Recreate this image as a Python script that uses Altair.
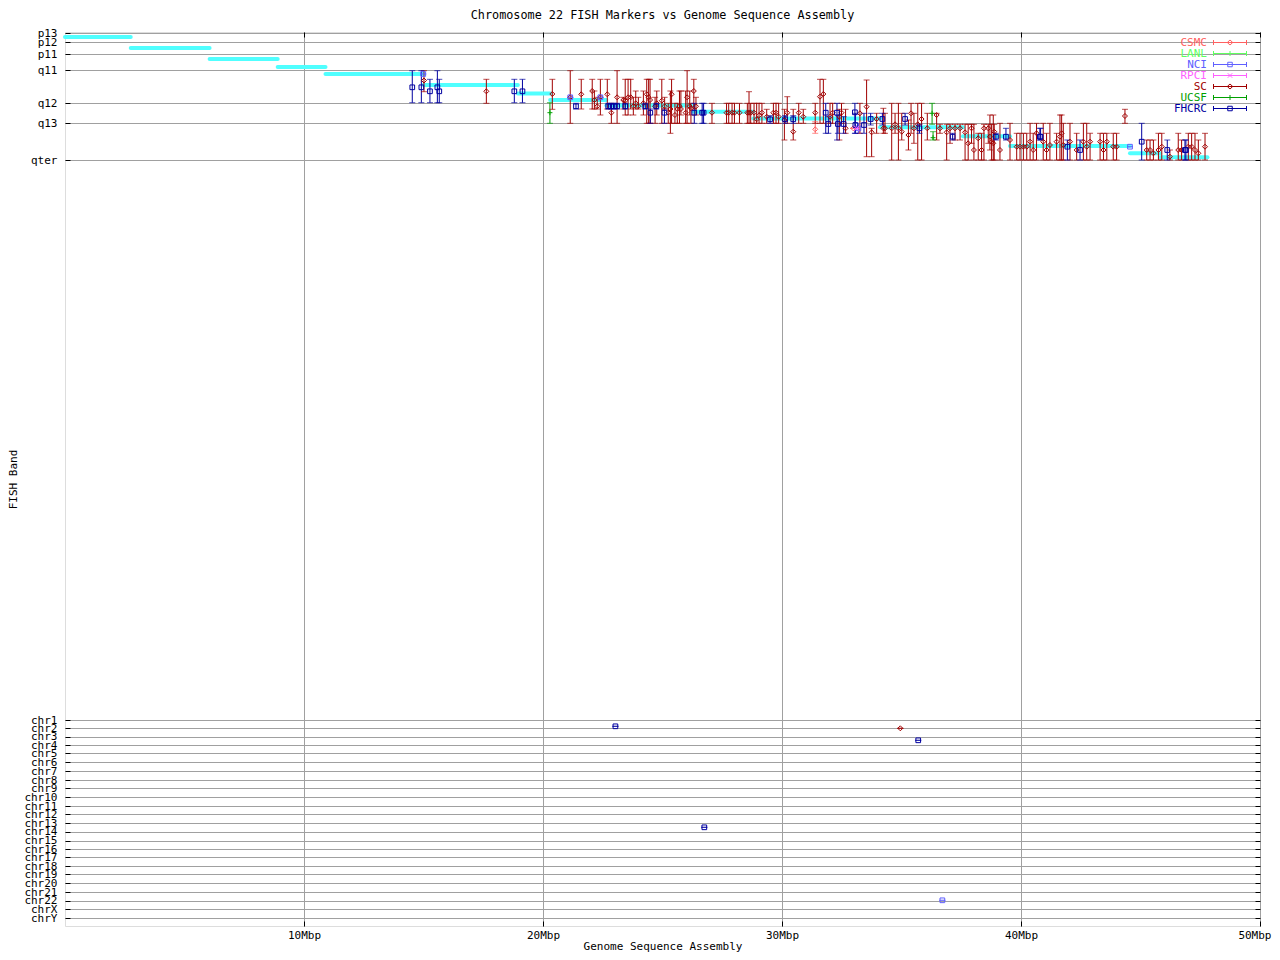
import json
import altair as alt
import pandas as pd

TITLE = "Chromosome 22 FISH Markers vs Genome Sequence Assembly"
X_TITLE = "Genome Sequence Assembly"
Y_TITLE = "FISH Band"
FONT = "DejaVu Sans Mono"

series_names = ["CSMC", "LANL", "NCI", "RPCI", "SC", "UCSF", "FHCRC"]
series_colors = ["#ff6060", "#60ff60", "#6060ff", "#ff60ff", "#a00000", "#00a000", "#0000a0"]

x_tick_values = [10, 20, 30, 40, 50]
band_labels = ["p13", "p12", "p11", "q11", "q12", "q13", "qter"]
band_pos = [1, 10, 22, 38, 71, 91, 128]
chrom_labels = ["chr1", "chr2", "chr3", "chr4", "chr5", "chr6", "chr7", "chr8", "chr9",
                "chr10", "chr11", "chr12", "chr13", "chr14", "chr15", "chr16", "chr17",
                "chr18", "chr19", "chr20", "chr21", "chr22", "chrX", "chrY"]
chrom_pos = [688, 696.3, 704.7, 713, 721.3, 730.3, 739, 748, 756.3, 765.3, 774, 782.3,
             791.3, 799.7, 808.7, 817, 825.3, 834, 842.3, 851.3, 860, 868.7, 877.3, 886]

# assembly band segments (cyan staircase)
asm_start = [0.0, 2.75, 6.05, 8.9, 10.9, 15.0, 18.95, 20.3, 22.65, 26.3, 28.8, 34.1, 37.57, 39.54, 44.56, 45.82]
asm_end = [2.75, 6.05, 8.9, 10.9, 15.0, 18.95, 20.3, 22.65, 26.3, 28.8, 34.1, 37.57, 39.54, 44.56, 45.82, 47.8]
asm_band = [5, 16, 27, 35, 42, 53, 61.5, 68, 73.5, 79.7, 86.5, 95.3, 104.3, 114, 121.3, 125.3]

# FHCRC markers: position (Mbp), band position, band range low/high
fhcrc_x = [14.53, 14.91, 15.27, 15.58, 15.66, 18.80, 19.14, 21.38, 22.73, 22.85, 22.97, 23.10,
           23.44, 24.28, 24.49, 24.74, 25.08, 26.33, 26.66, 26.72, 29.50, 30.13, 30.47, 31.83,
           31.94, 32.30, 32.34, 32.58, 33.05, 33.07, 33.43, 33.71, 34.20, 35.15, 35.75, 37.14,
           38.95, 39.37, 40.79, 40.82, 41.94, 42.47, 45.05, 46.12, 46.86, 46.90,
           23.03, 35.70, 26.75]
fhcrc_y = [55.3, 55.3, 59.3, 55.3, 59.3, 59.3, 59.3, 74.3, 74.3, 74.3, 74.3, 74.3,
           74.3, 74.3, 80.7, 74.3, 80.7, 80.7, 80.7, 80.7, 87.3, 87.3, 87.3, 80.7,
           92.0, 80.7, 92.0, 92.0, 80.3, 93.0, 93.0, 87.0, 87.0, 87.0, 96.3, 104.7,
           104.7, 104.7, 104.7, 104.7, 114.7, 118.0, 109.7, 118.0, 118.0, 118.0,
           694.3, 708.3, 795.3]
fhcrc_lo = [38.7, 38.7, 47.3, 38.7, 47.3, 47.3, 47.3, 71.3, 71.3, 71.3, 71.3, 71.3,
            71.3, 71.3, 77.0, 71.3, 77.0, 71.3, 71.3, 71.3, 83.7, 83.7, 83.7, 71.3,
            84.7, 71.3, 83.7, 84.7, 71.3, 81.3, 81.3, 81.3, 81.3, 81.3, 92.3, 101.3,
            101.3, 96.3, 96.3, 96.3, 108.0, 108.0, 91.3, 108.0, 108.0, 108.0,
            694.3, 708.3, 795.3]
fhcrc_hi = [70.7, 70.7, 70.7, 70.7, 70.7, 70.7, 70.7, 77.0, 77.0, 77.0, 77.0, 77.0,
            77.0, 77.0, 91.3, 77.0, 91.3, 91.3, 91.3, 91.3, 91.3, 91.3, 91.3, 101.3,
            101.3, 108.0, 101.3, 101.3, 101.3, 101.3, 101.3, 93.0, 93.0, 93.0, 101.3, 108.0,
            108.0, 108.0, 108.0, 108.0, 128.0, 128.0, 128.0, 128.0, 128.0, 128.0,
            694.3, 708.3, 795.3]

sc_x = [15.02, 17.63, 20.39, 21.14, 21.60, 22.06, 22.15, 22.27, 22.40, 22.69, 22.86, 23.10,
        23.36, 23.44, 23.56, 23.67, 23.78, 23.88, 23.99, 24.20, 24.34, 24.42, 24.48, 24.69,
        24.76, 24.97, 25.09, 25.24, 25.33, 25.38, 25.52, 25.62, 25.71, 25.77, 25.97, 26.03,
        26.14, 26.31, 26.40, 26.19, 27.07, 27.68, 27.77, 27.91, 28.01, 28.22, 28.55, 28.62,
        28.69, 28.83, 28.94, 29.04, 29.16, 29.36, 29.64, 29.75, 29.86, 30.10, 30.22, 30.47,
        30.70, 30.89, 31.39, 31.59, 31.73, 32.01, 32.12, 32.40, 32.49, 32.66, 33.26, 33.54,
        33.75, 33.96, 34.24, 34.31, 34.59, 34.73, 34.87, 35.01, 35.29, 35.40, 35.52, 35.68,
        35.84, 36.08, 36.47, 36.61, 36.89, 37.03, 37.24, 37.45, 37.66, 37.79, 37.93, 38.03,
        38.21, 38.35, 38.45, 38.63, 38.70, 38.77, 38.84, 38.88, 39.12, 39.54, 39.82, 39.96,
        40.10, 40.24, 40.38, 40.51, 40.65, 40.93, 41.07, 41.21, 41.49, 41.63, 41.70, 41.77,
        42.05, 42.33, 42.61, 42.75, 42.89, 43.31, 43.45, 43.59, 43.86, 44.00, 44.35, 45.26,
        45.40, 45.54, 45.75, 45.89, 46.23, 46.58, 46.72, 47.00, 47.14, 47.28, 47.42, 47.70,
        34.95]
sc_y = [48.5, 59.3, 62.0, 65.3, 62.3, 59.0, 68.0, 74.3, 65.3, 62.3, 80.7, 65.3,
        68.0, 68.7, 65.3, 65.3, 74.3, 71.3, 74.3, 71.3, 62.3, 65.3, 68.0, 74.3,
        71.3, 68.7, 74.3, 80.7, 77.0, 62.3, 83.0, 77.0, 74.3, 77.0, 80.7, 65.3,
        74.3, 59.0, 74.3, 76.3, 80.7, 80.7, 80.7, 80.7, 80.7, 80.7, 80.7, 80.7,
        80.7, 80.7, 87.3, 83.3, 80.7, 84.7, 80.7, 80.7, 84.7, 88.0, 80.7, 99.7,
        80.7, 84.7, 80.7, 64.7, 62.0, 84.7, 80.7, 84.7, 80.7, 96.3, 81.3, 74.7,
        100.3, 87.0, 96.3, 96.3, 96.3, 92.3, 96.3, 99.7, 103.0, 81.3, 96.3, 92.3,
        87.0, 96.3, 83.0, 96.3, 100.3, 96.3, 96.3, 96.3, 100.3, 111.3, 96.3, 118.0,
        106.3, 118.0, 96.3, 96.3, 104.7, 109.7, 111.3, 99.7, 118.0, 108.0, 114.7, 114.7,
        114.7, 114.7, 109.7, 118.0, 101.3, 109.7, 118.0, 113.0, 109.7, 104.7, 101.3, 113.0,
        109.7, 118.0, 109.7, 114.7, 109.7, 109.7, 118.0, 109.7, 114.7, 114.7, 84.0, 118.0,
        118.0, 121.3, 118.0, 114.7, 124.7, 118.0, 118.0, 114.7, 114.7, 118.0, 121.3, 114.7,
        696.3]
sc_lo = [38.7, 47.3, 47.3, 38.7, 47.3, 47.3, 59.0, 65.3, 47.3, 47.3, 71.3, 38.7,
         65.3, 47.3, 47.3, 47.3, 65.3, 59.0, 65.3, 59.0, 47.3, 47.3, 47.3, 65.3,
         59.0, 47.3, 65.3, 71.3, 59.0, 47.3, 71.3, 71.3, 59.0, 59.0, 59.0, 38.7,
         59.0, 47.3, 65.3, 71.3, 71.3, 71.3, 71.3, 71.3, 71.3, 71.3, 71.3, 59.7,
         71.3, 71.3, 71.3, 71.3, 71.3, 77.3, 71.3, 71.3, 71.3, 77.3, 64.7, 77.3,
         71.3, 77.3, 71.3, 47.3, 47.3, 71.3, 71.3, 77.3, 71.3, 77.3, 71.3, 48.0,
         96.3, 81.3, 76.3, 81.3, 71.3, 81.3, 71.3, 81.3, 88.0, 71.3, 81.3, 71.3,
         71.3, 81.3, 81.3, 92.3, 92.3, 92.3, 92.3, 92.3, 92.3, 92.3, 92.3, 92.3,
         101.3, 101.3, 92.3, 92.3, 83.0, 92.3, 83.0, 92.3, 91.3, 91.3, 101.3, 101.3,
         101.3, 101.3, 91.3, 101.3, 91.3, 91.3, 101.3, 91.3, 101.3, 83.0, 83.0, 91.3,
         91.3, 101.3, 91.3, 91.3, 101.3, 101.3, 101.3, 101.3, 101.3, 101.3, 77.3, 108.0,
         108.0, 108.0, 101.3, 101.3, 118.0, 101.3, 108.0, 101.3, 101.3, 101.3, 108.0, 101.3,
         696.3]
sc_hi = [59.7, 71.3, 77.3, 91.3, 77.0, 77.0, 77.0, 77.0, 83.0, 77.0, 91.3, 91.3,
         77.0, 83.0, 83.0, 77.0, 83.0, 77.0, 77.0, 83.0, 91.3, 91.3, 91.3, 91.3,
         83.0, 91.3, 77.0, 91.3, 101.3, 91.3, 91.3, 91.3, 91.3, 83.0, 91.3, 91.3,
         83.0, 77.0, 83.0, 91.3, 91.3, 91.3, 91.3, 91.3, 91.3, 91.3, 91.3, 91.3,
         91.3, 91.3, 91.3, 91.3, 91.3, 91.3, 91.3, 91.3, 91.3, 108.0, 91.3, 108.0,
         91.3, 91.3, 91.3, 91.3, 91.3, 91.3, 91.3, 108.0, 91.3, 101.3, 101.3, 124.7,
         124.7, 101.3, 101.3, 101.3, 128.0, 101.3, 128.0, 108.0, 118.0, 101.3, 111.3, 128.0,
         128.0, 108.0, 108.0, 101.3, 128.0, 111.3, 108.0, 108.0, 128.0, 128.0, 111.3, 128.0,
         128.0, 128.0, 128.0, 111.3, 118.0, 128.0, 128.0, 128.0, 128.0, 128.0, 128.0, 128.0,
         128.0, 128.0, 128.0, 128.0, 128.0, 128.0, 128.0, 128.0, 128.0, 128.0, 128.0, 128.0,
         128.0, 128.0, 128.0, 128.0, 128.0, 128.0, 128.0, 128.0, 128.0, 128.0, 91.3, 128.0,
         128.0, 128.0, 128.0, 128.0, 128.0, 128.0, 128.0, 128.0, 128.0, 128.0, 128.0, 128.0,
         696.3]

csmc_x = [31.39, 32.98]
csmc_y = [97.3, 96.3]
csmc_lo = [89.7, 96.3]
csmc_hi = [101.3, 96.3]

nci_x = [14.99, 21.14, 22.40, 33.20, 44.56, 36.71]
nci_y = [42.0, 65.3, 65.3, 96.3, 114.7, 868.3]
nci_lo = [42.0, 65.3, 65.3, 91.3, 114.7, 868.3]
nci_hi = [42.0, 65.3, 65.3, 101.3, 114.7, 868.3]

rpci_x = [33.12]
rpci_y = [96.3]
rpci_lo = [96.3]
rpci_hi = [96.3]

ucsf_x = [20.29, 36.28, 36.32]
ucsf_y = [80.7, 81.3, 105.7]
ucsf_lo = [70.7, 71.3, 99.7]
ucsf_hi = [91.3, 92.3, 108.0]

lanl_x, lanl_y, lanl_lo, lanl_hi = [], [], [], []

# ---------------------------------------------------------------------------
groups = [
    ("CSMC", csmc_x, csmc_y, csmc_lo, csmc_hi),
    ("LANL", lanl_x, lanl_y, lanl_lo, lanl_hi),
    ("NCI", nci_x, nci_y, nci_lo, nci_hi),
    ("RPCI", rpci_x, rpci_y, rpci_lo, rpci_hi),
    ("SC", sc_x, sc_y, sc_lo, sc_hi),
    ("UCSF", ucsf_x, ucsf_y, ucsf_lo, ucsf_hi),
    ("FHCRC", fhcrc_x, fhcrc_y, fhcrc_lo, fhcrc_hi),
]
rows = []
for name, xs, ys, los, his in groups:
    for a, b, c, d in zip(xs, ys, los, his):
        rows.append({"series": name, "x": a, "y": b, "lo": c, "hi": d})
markers = pd.DataFrame(rows)
asm = pd.DataFrame({"start": asm_start, "end": asm_end, "band": asm_band})

y_vals = band_pos + chrom_pos
y_labs = band_labels + chrom_labels
y_label_expr = f"{json.dumps(y_labs)}[indexof({json.dumps(y_vals)}, datum.value)]"

x_scale = alt.Scale(domain=[0, 50], nice=False, zero=False)
y_scale = alt.Scale(domain=[0, 894], nice=False, zero=False, reverse=True)
# data layers: same mapping, domain listed in reverse so that its (hidden) legend
# is never merged with the visible legend below
data_color_scale = alt.Scale(domain=series_names[::-1], range=series_colors[::-1])
legend_color_scale = alt.Scale(domain=series_names, range=series_colors)

GRID = "#a0a0a0"
last_x = x_tick_values[-1]
x_axis = alt.Axis(values=x_tick_values, labelExpr="datum.value + 'Mbp'", title=X_TITLE,
                  grid=True, gridColor=GRID, gridOpacity=1, domain=False, ticks=True, tickSize=5,
                  offset=-5, tickColor="black", labelPadding=3, labelFont=FONT,
                  labelFontSize=11, labelColor="black", labelFlush=False, labelOverlap=False,
                  labelBound=False,
                  labelAlign=alt.ExprRef(expr=f"datum.value == {last_x} ? 'right' : 'center'"),
                  labelOffset=alt.ExprRef(expr=f"datum.value == {last_x} ? 11 : 0"),
                  titleFont=FONT, titleFontSize=11, titleFontWeight="normal",
                  titleColor="black", titlePadding=0)
y_axis = alt.Axis(values=y_vals, labelExpr=y_label_expr, title=Y_TITLE,
                  grid=True, gridColor=GRID, gridOpacity=1, domain=False, ticks=True, tickSize=5,
                  offset=-5, tickColor="black", labelPadding=8, labelFont=FONT,
                  labelFontSize=11, labelColor="black", labelFlush=False, labelOverlap=False,
                  labelBound=False, titleFont=FONT, titleFontSize=11, titleFontWeight="normal",
                  titleColor="black", titlePadding=5)


def X(field):
    return alt.X(field, type="quantitative", scale=x_scale, axis=x_axis)


def Y(field):
    return alt.Y(field, type="quantitative", scale=y_scale, axis=y_axis)


col = alt.Color("series:N", scale=data_color_scale, legend=None)

cyan = alt.Chart(asm).mark_rule(color="#50ffff", strokeWidth=4, strokeCap="round").encode(
    x=X("start"), x2="end", y=Y("band"))

bars = alt.Chart(markers).mark_rule(strokeWidth=1).encode(
    x=X("x"), y=Y("lo"), y2="hi", color=col)
cap_lo = alt.Chart(markers).mark_tick(orient="horizontal", size=6, thickness=1).encode(
    x=X("x"), y=Y("lo"), color=col)
cap_hi = alt.Chart(markers).mark_tick(orient="horizontal", size=6, thickness=1).encode(
    x=X("x"), y=Y("hi"), color=col)

marker_shapes = [
    (["CSMC", "SC"], "diamond", 25),
    (["LANL", "UCSF"], "M-1,0H1M0,-1V1", 25),
    (["NCI", "FHCRC"], "square", 22),
    (["RPCI"], "M-1,-1L1,1M-1,1L1,-1", 25),
]
point_layers = []
for members, shp, sz in marker_shapes:
    point_layers.append(
        alt.Chart(markers).transform_filter(
            alt.FieldOneOfPredicate(field="series", oneOf=members)
        ).mark_point(shape=shp, size=sz, filled=False, strokeWidth=1, opacity=1).encode(
            x=X("x"), y=Y("y"), color=col)
    )

# legend symbols: errorbar sample with the series marker (1 unit = 5 px)
line_part = "M-3.3,0H3.3M-3.3,-0.5V0.5M3.3,-0.5V0.5"
legend_marks = {
    "diamond": "M0,-0.5L0.55,0L0,0.5L-0.55,0Z",
    "cross": "M0,-0.5V0.5",
    "square": "M-0.45,-0.45H0.45V0.45H-0.45Z",
    "x": "M-0.45,-0.45L0.45,0.45M-0.45,0.45L0.45,-0.45",
}
legend_kind = ["diamond", "cross", "square", "x", "diamond", "cross", "square"]
legend_paths = [line_part + legend_marks[k] for k in legend_kind]

label_color_expr = f"{json.dumps(series_colors)}[indexof({json.dumps(series_names)}, datum.value)]"
legend = alt.Legend(orient="none", legendX=1159.5, legendY=5, title=None,
                    labelAlign="right", labelOffset=alt.ExprRef(expr="-28.5"),
                    rowPadding=alt.ExprRef(expr="-1"), padding=0, symbolSize=100,
                    symbolStrokeWidth=1, symbolOpacity=1, symbolOffset=0,
                    symbolFillColor="transparent",
                    labelFont=FONT, labelFontSize=11,
                    labelColor=alt.ExprRef(expr=label_color_expr))

legend_layer = alt.Chart(markers).transform_filter("false").mark_point(filled=False).encode(
    x=X("x"), y=Y("y"),
    stroke=alt.Stroke("series:N", scale=legend_color_scale, legend=legend),
    shape=alt.Shape("series:N", scale=alt.Scale(domain=series_names, range=legend_paths),
                    legend=legend),
)

inner = alt.layer(cyan, bars, cap_lo, cap_hi, *point_layers, legend_layer)

mirror_x_axis = alt.Axis(orient="top", values=x_tick_values, labels=False, ticks=True,
                         tickSize=5, offset=-5, domain=False, grid=False, title=None,
                         tickColor="black")
mirror_y_axis = alt.Axis(orient="right", values=y_vals, labels=False, ticks=True,
                         tickSize=5, offset=-5, domain=False, grid=False, title=None,
                         tickColor="black")
mirror = alt.Chart(asm).mark_point(opacity=0).encode(
    x=alt.X("start", type="quantitative", scale=x_scale, axis=mirror_x_axis),
    y=alt.Y("band", type="quantitative", scale=y_scale, axis=mirror_y_axis),
)

chart = alt.layer(inner, mirror).resolve_axis(x="independent", y="independent").properties(
    width=1195, height=894,
    autosize=alt.AutoSizeParams(type="none"),
    padding={"left": 57, "top": 24, "right": 12, "bottom": 26},
    title=alt.Title(TITLE, font=FONT, fontSize=11.8, fontWeight="normal", color="black",
                    anchor="middle", offset=5),
).configure_view(stroke="black", strokeWidth=1).configure(background="white")

chart.save("out.html", embed_options={"renderer": "svg", "actions": False})
